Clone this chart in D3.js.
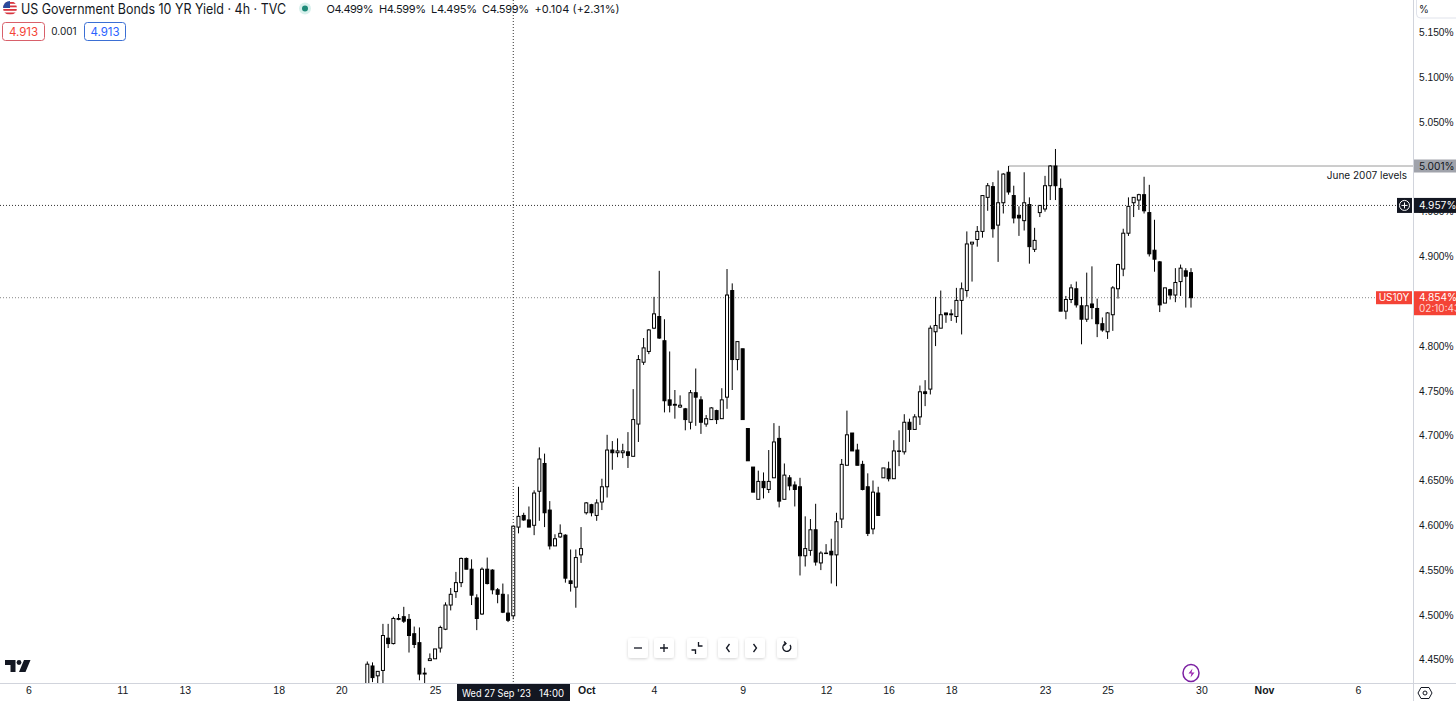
<!DOCTYPE html>
<html>
<head>
<meta charset="utf-8">
<script src="https://cdn.jsdelivr.net/npm/d3@7/dist/d3.min.js"></script>
<style>
  html, body { margin: 0; padding: 0; background: #fff; overflow: hidden; }
  svg { display: block; font-family: Inter, "Liberation Sans", sans-serif; }
  .price-axis path, .price-axis line, .time-axis path, .time-axis line { display: none; }
</style>
</head>
<body>
<div id="chart"></div>
<script>
// 4h candles, US10Y
const opens = [
  4.416,4.443,4.432,4.438,4.474,4.468,4.495,4.498,4.495,4.479,4.469,4.434,4.449,4.451,4.463,4.484,4.511,4.526,4.536,4.563,4.551,4.519,4.501,4.551,4.550,4.528,
  4.523,4.502,4.499,4.598,4.611,4.606,4.600,4.638,4.669,4.617,4.577,4.587,4.589,4.538,4.531,4.567,4.614,4.623,4.611,4.626,4.643,4.684,4.681,4.681,4.682,4.677,
  4.713,4.782,4.794,4.820,4.833,4.806,4.740,4.734,4.732,4.730,4.715,4.748,4.740,4.713,4.718,4.728,4.719,4.743,4.862,4.785,4.797,4.708,4.665,4.629,4.649,4.640,
  4.653,4.697,4.629,4.653,4.645,4.643,4.566,4.572,4.595,4.558,4.569,4.571,4.567,4.607,4.667,4.703,4.684,4.668,4.643,4.596,4.636,4.653,4.663,4.652,4.683,4.682,
  4.715,4.707,4.721,4.749,4.752,4.816,4.820,4.837,4.835,4.833,4.851,4.862,4.914,4.919,4.928,4.966,4.978,4.935,4.960,4.994,4.968,4.946,4.940,4.958,4.908,4.949,
  4.953,4.979,5.001,4.976,4.839,4.852,4.864,4.845,4.830,4.847,4.842,4.825,4.816,4.835,4.864,4.886,4.926,4.960,4.963,4.969,4.949,4.907,4.894,4.848,4.863,4.857,
  4.872,4.884,4.882
];
const highs = [
  4.448,4.447,4.437,4.490,4.490,4.498,4.501,4.509,4.501,4.487,4.486,4.441,4.457,4.462,4.488,4.514,4.530,4.548,4.564,4.564,4.562,4.523,4.553,4.564,4.551,4.530,
  4.535,4.523,4.599,4.643,4.614,4.621,4.639,4.687,4.680,4.627,4.590,4.601,4.590,4.573,4.573,4.598,4.626,4.624,4.629,4.652,4.701,4.694,4.697,4.691,4.704,4.752,
  4.790,4.809,4.819,4.855,4.884,4.830,4.794,4.751,4.745,4.731,4.751,4.775,4.744,4.723,4.732,4.729,4.753,4.886,4.870,4.805,4.797,4.708,4.665,4.661,4.659,4.684,
  4.714,4.711,4.669,4.656,4.649,4.653,4.610,4.607,4.624,4.571,4.579,4.585,4.614,4.674,4.728,4.703,4.691,4.672,4.658,4.650,4.643,4.664,4.671,4.695,4.706,4.724,
  4.719,4.724,4.756,4.762,4.823,4.855,4.862,4.837,4.841,4.865,4.871,4.928,4.916,4.934,4.968,4.982,4.983,4.996,4.993,5.001,4.979,4.956,4.994,4.966,4.932,4.957,
  4.990,5.002,5.020,4.987,4.856,4.869,4.872,4.855,4.882,4.889,4.853,4.832,4.838,4.867,4.892,4.931,4.966,4.966,4.970,4.989,4.980,4.941,4.895,4.865,4.864,4.887,
  4.891,4.887,4.887
];
const lows = [
  4.413,4.425,4.416,4.416,4.463,4.467,4.494,4.491,4.458,4.463,4.427,4.424,4.449,4.451,4.458,4.483,4.505,4.519,4.531,4.551,4.511,4.483,4.500,4.534,4.523,4.513,
  4.502,4.492,4.495,4.591,4.605,4.598,4.589,4.605,4.598,4.573,4.577,4.586,4.536,4.526,4.508,4.558,4.612,4.610,4.605,4.617,4.631,4.662,4.676,4.675,4.664,4.677,
  4.693,4.779,4.791,4.819,4.808,4.726,4.726,4.719,4.731,4.706,4.707,4.711,4.702,4.710,4.718,4.713,4.719,4.730,4.751,4.773,4.718,4.672,4.637,4.629,4.630,4.636,
  4.653,4.620,4.629,4.639,4.621,4.544,4.554,4.566,4.555,4.550,4.568,4.535,4.532,4.597,4.667,4.683,4.667,4.639,4.588,4.590,4.611,4.653,4.649,4.652,4.666,4.679,
  4.693,4.707,4.712,4.733,4.746,4.800,4.820,4.826,4.828,4.826,4.813,4.855,4.872,4.911,4.921,4.951,4.921,4.894,4.948,4.969,4.937,4.923,4.929,4.892,4.905,4.944,
  4.950,4.963,4.963,4.839,4.830,4.848,4.843,4.802,4.827,4.830,4.810,4.816,4.808,4.817,4.853,4.878,4.923,4.944,4.952,4.948,4.900,4.883,4.838,4.848,4.852,4.849,
  4.856,4.843,4.843
];
const closes = [
  4.445,4.430,4.437,4.477,4.468,4.496,4.496,4.493,4.477,4.467,4.434,4.435,4.451,4.462,4.486,4.511,4.523,4.536,4.563,4.551,4.522,4.496,4.551,4.535,4.528,4.523,
  4.503,4.494,4.599,4.610,4.606,4.598,4.636,4.674,4.614,4.577,4.585,4.591,4.541,4.535,4.564,4.574,4.625,4.614,4.625,4.643,4.684,4.681,4.683,4.683,4.678,4.718,
  4.785,4.798,4.818,4.836,4.809,4.739,4.734,4.735,4.734,4.718,4.748,4.743,4.715,4.719,4.731,4.718,4.740,4.857,4.785,4.805,4.718,4.672,4.637,4.649,4.642,4.649,
  4.693,4.627,4.656,4.644,4.640,4.566,4.574,4.595,4.559,4.569,4.569,4.567,4.604,4.668,4.701,4.683,4.667,4.640,4.591,4.637,4.611,4.664,4.652,4.683,4.683,4.715,
  4.707,4.721,4.749,4.747,4.820,4.823,4.835,4.835,4.836,4.851,4.864,4.914,4.916,4.928,4.968,4.979,4.931,4.960,4.992,4.972,4.943,4.943,4.960,4.911,4.918,4.957,
  4.979,5.001,4.979,4.839,4.852,4.865,4.846,4.830,4.845,4.843,4.825,4.818,4.837,4.865,4.891,4.926,4.956,4.966,4.969,4.951,4.903,4.897,4.846,4.865,4.857,4.871,
  4.887,4.878,4.854
];

const priceTicks = [5.15,5.10,5.05,5.00,4.95,4.90,4.85,4.80,4.75,4.70,4.65,4.60,4.55,4.50,4.45];
// bar index -> label, bars before the first candle count negative
const timeTickBars = [-65,-47,-35,-17,-5,13,42,55,72,88,100,112,130,142,160,172,190];
const timeTickLabels = ['6','11','13','18','20','25','Oct','4','9','12','16','18','23','25','30','Nov','6'];
const boldLabels = ['Oct','Nov'];

const legendText = 'US Government Bonds 10 YR Yield · 4h · TVC';
const ohlcLabels = ['O4.499%','H4.599%','L4.495%','C4.599%','+0.104 (+2.31%)'];
const hoverBar = 28, hoverPrice = 4.957, levelPrice = 5.001, lastPrice = 4.854, levelStartBar = 123;

const W = 1456, H = 701;
const plotW = 1413, plotH = 683;
const red = '#f44336', ink = '#131722';

const svg = d3.select('#chart').append('svg').attr('width', W).attr('height', H);

const x = d3.scaleLinear().domain([0, opens.length - 1]).range([367.3, 1191]);
const y = d3.scaleLinear().domain([4.45, 5.15]).range([659.7, 32.5]);

const defs = svg.append('defs');
defs.append('clipPath').attr('id','plot').append('rect').attr('width', plotW).attr('height', plotH);
defs.append('clipPath').attr('id','flag').append('circle').attr('cx',10).attr('cy',8).attr('r',7);
const shadow = defs.append('filter').attr('id','soft').attr('x','-30%').attr('y','-30%').attr('width','160%').attr('height','160%');
shadow.append('feDropShadow').attr('dx',0).attr('dy',1).attr('stdDeviation',1.5).attr('flood-color','#000').attr('flood-opacity',0.18);

// last price + level lines
const plot = svg.append('g').attr('clip-path','url(#plot)');
plot.append('line').attr('x1',0).attr('x2',plotW).attr('y1',y(lastPrice)).attr('y2',y(lastPrice))
  .attr('stroke','#888').attr('stroke-dasharray','1 2');
plot.append('line').attr('x1',x(levelStartBar)).attr('x2',plotW).attr('y1',y(levelPrice)).attr('y2',y(levelPrice))
  .attr('stroke','#9a9a9a');

// candles
const bars = d3.range(opens.length);
const candle = plot.selectAll('g.candle').data(bars).enter().append('g').attr('class','candle');
candle.append('line')
  .attr('x1', i => x(i)).attr('x2', i => x(i))
  .attr('y1', i => y(highs[i])).attr('y2', i => y(lows[i]))
  .attr('stroke','#000');
candle.append('rect')
  .attr('x', i => x(i) - 1.5)
  .attr('width', 3)
  .attr('y', i => y(Math.max(opens[i], closes[i])))
  .attr('height', i => Math.max(0.5, Math.abs(y(opens[i]) - y(closes[i]))))
  .attr('fill', i => closes[i] >= opens[i] ? '#fff' : '#000')
  .attr('stroke','#000');

// crosshair above the candles
plot.append('line').attr('x1',x(hoverBar)).attr('x2',x(hoverBar)).attr('y1',0).attr('y2',plotH)
  .attr('stroke','#333').attr('stroke-dasharray','1 2');
plot.append('line').attr('x1',0).attr('x2',plotW).attr('y1',y(hoverPrice)).attr('y2',y(hoverPrice))
  .attr('stroke','#333').attr('stroke-dasharray','1 2');

// axes
svg.append('line').attr('x1',plotW+0.5).attr('x2',plotW+0.5).attr('y1',0).attr('y2',H).attr('stroke','#d1d4dc');
svg.append('line').attr('x1',0).attr('x2',W).attr('y1',plotH+0.5).attr('y2',plotH+0.5).attr('stroke','#d1d4dc');

const priceAxis = svg.append('g').attr('class','price-axis')
  .attr('transform', `translate(${plotW + 6},0)`)
  .call(d3.axisRight(y).tickValues(priceTicks).tickSize(0).tickPadding(0).tickFormat(d => d3.format('.3f')(d) + '%'));
priceAxis.selectAll('text').attr('font-size',10.2).attr('fill',ink);

const timeScale = d3.scaleLinear().domain(x.domain()).range(x.range());
const timeAxis = svg.append('g').attr('class','time-axis')
  .attr('transform', `translate(0,${plotH + 4})`)
  .call(d3.axisBottom(timeScale).tickValues(timeTickBars).tickSize(0).tickPadding(0)
    .tickFormat((d,i) => timeTickLabels[i]));
timeAxis.selectAll('text').attr('font-size',10.5).attr('fill',ink)
  .attr('font-weight', (d,i) => boldLabels.includes(timeTickLabels[i]) ? 600 : 400);

// unit box, top right
svg.append('rect').attr('x',1416.5).attr('y',-6).attr('width',60).attr('height',24).attr('rx',4).attr('fill','none').attr('stroke','#e0e3eb');
svg.append('text').attr('x',1424).attr('y',13).attr('font-size',10).attr('fill',ink).attr('text-anchor','middle').text('%');

// level label
svg.append('rect').attr('x',plotW+1).attr('y',y(levelPrice)-6.5).attr('width',W-plotW).attr('height',13).attr('fill','#a0a3ab');
svg.append('text').attr('x',plotW+6).attr('y',y(levelPrice)+3.7).attr('font-size',10.2).attr('fill',ink).text('5.001%');
svg.append('text').attr('x',1407).attr('y',179).attr('font-size',10).attr('text-anchor','end').attr('fill',ink).text('June 2007 levels');

// crosshair price tag
svg.append('rect').attr('x',plotW+1).attr('y',y(hoverPrice)-7.5).attr('width',W-plotW).attr('height',15).attr('fill',ink);
svg.append('text').attr('x',plotW+6).attr('y',y(hoverPrice)+3.7).attr('font-size',10.2).attr('fill','#fff').text('4.957%');
svg.append('rect').attr('x',1397).attr('y',y(hoverPrice)-7.5).attr('width',15).attr('height',15).attr('fill',ink);
svg.append('circle').attr('cx',1404.5).attr('cy',y(hoverPrice)).attr('r',5).attr('fill','none').attr('stroke','#fff');
svg.append('path').attr('d',`M1401.5 ${y(hoverPrice)}h6M1404.5 ${y(hoverPrice)-3}v6`).attr('stroke','#fff');

// last price tag
svg.append('rect').attr('x',1376).attr('y',y(lastPrice)-6.5).attr('width',36).attr('height',13).attr('fill',red);
svg.append('text').attr('x',1394).attr('y',y(lastPrice)+3.7).attr('font-size',10).attr('text-anchor','middle').attr('fill','#fff').text('US10Y');
svg.append('rect').attr('x',plotW+1).attr('y',y(lastPrice)-6.5).attr('width',W-plotW).attr('height',24).attr('fill',red);
svg.append('text').attr('x',plotW+6).attr('y',y(lastPrice)+3.7).attr('font-size',10.2).attr('fill','#fff').text('4.854%');
svg.append('text').attr('x',plotW+6).attr('y',y(lastPrice)+14.5).attr('font-size',10).attr('fill','#ffd5d2').text('02:10:43');

// crosshair time tag
svg.append('rect').attr('x',457).attr('y',plotH+1).attr('width',113).attr('height',H-plotH).attr('fill',ink);
svg.append('text').attr('x',462).attr('y',697).attr('font-size',10).attr('textLength',69).attr('lengthAdjust','spacingAndGlyphs').attr('fill','#fff').text("Wed 27 Sep '23");
svg.append('text').attr('x',539).attr('y',697).attr('font-size',10).attr('textLength',25).attr('lengthAdjust','spacingAndGlyphs').attr('fill','#fff').text('14:00');

// legend
const flag = svg.append('g').attr('clip-path','url(#flag)');
flag.append('rect').attr('x',3).attr('y',1).attr('width',14).attr('height',14).attr('fill','#fff');
d3.range(4).forEach(k => flag.append('rect').attr('x',3).attr('y',2 + k*3.5).attr('width',14).attr('height',1.8).attr('fill','#d8343f'));
flag.append('rect').attr('x',3).attr('y',1).attr('width',7).attr('height',7).attr('fill','#2a4a9c');

svg.append('text').attr('x',21).attr('y',13.5).attr('font-size',14).attr('textLength',265).attr('lengthAdjust','spacingAndGlyphs').attr('fill',ink).text(legendText);
svg.append('circle').attr('cx',305).attr('cy',8.5).attr('r',6).attr('fill','#d8f0ec');
svg.append('circle').attr('cx',305).attr('cy',8.5).attr('r',3).attr('fill','#1d8a78');
const ohlcX = [326.5, 379, 431, 482, 534.5];
const ohlcW = [47, 47, 46, 47, 85];
svg.selectAll('text.ohlc').data(ohlcLabels).enter().append('text').attr('class','ohlc')
  .attr('x',(d,i) => ohlcX[i]).attr('y',12.5).attr('font-size',11).attr('textLength',(d,i) => ohlcW[i]).attr('fill',ink).text(d => d);

svg.append('rect').attr('x',2.5).attr('y',22.5).attr('width',42).attr('height',18).attr('rx',3).attr('fill','#fff').attr('stroke','#d8606a');
svg.append('text').attr('x',23.5).attr('y',35.5).attr('font-size',11.5).attr('text-anchor','middle').attr('fill',red).text('4.913');
svg.append('text').attr('x',64).attr('y',35).attr('font-size',10).attr('text-anchor','middle').attr('fill',ink).text('0.001');
svg.append('rect').attr('x',84.5).attr('y',22.5).attr('width',41).attr('height',18).attr('rx',3).attr('fill','#fff').attr('stroke','#3b6fd4');
svg.append('text').attr('x',105).attr('y',35.5).attr('font-size',11.5).attr('text-anchor','middle').attr('fill','#2962ff').text('4.913');

// zoom toolbar
const toolX = [638, 664, 697, 728, 755, 787];
const toolIcons = ['M-4 0h8','M-4 0h8M0 -4v8','M-5.5 2h4v4M5.5 -2h-4v-4','M1.5 -4l-3 4l3 4','M-1.5 -4l3 4l-3 4','M3 -3a4 4 0 1 1 -4 -1.5M-3 -6.5l2 2l-2 2'];
const tools = svg.selectAll('g.tool').data(toolX).enter().append('g').attr('class','tool')
  .attr('transform', d => `translate(${d},648)`);
tools.append('rect').attr('x',-10).attr('y',-10).attr('width',20).attr('height',20).attr('rx',3)
  .attr('fill','#fff').attr('filter','url(#soft)');
tools.append('path').attr('d',(d,i) => toolIcons[i]).attr('fill','none').attr('stroke',ink).attr('stroke-width',1.3);

// logo
svg.append('path').attr('fill',ink).attr('d','M5 660h10.5v12h-5v-7h-5.5zM24 660h6.5l-5 12h-6.5z');
svg.append('circle').attr('cx',19).attr('cy',662.5).attr('r',2.4).attr('fill',ink);

// lightning badge
svg.append('ellipse').attr('cx',1191).attr('cy',673).attr('rx',8).attr('ry',8.5).attr('fill','#fff').attr('stroke','#7b1fa2').attr('stroke-width',1.5);
svg.append('path').attr('d','M1192.5 668.5l-4 5h3l-1 4l4 -5h-3z').attr('fill','#9c27b0');

// settings
svg.append('path').attr('d','M1421 687.5h8l3 5.5l-3 5.5h-8l-3 -5.5z').attr('fill','none').attr('stroke',ink);
svg.append('circle').attr('cx',1425).attr('cy',693).attr('r',2).attr('fill','none').attr('stroke',ink);
</script>
</body>
</html>
